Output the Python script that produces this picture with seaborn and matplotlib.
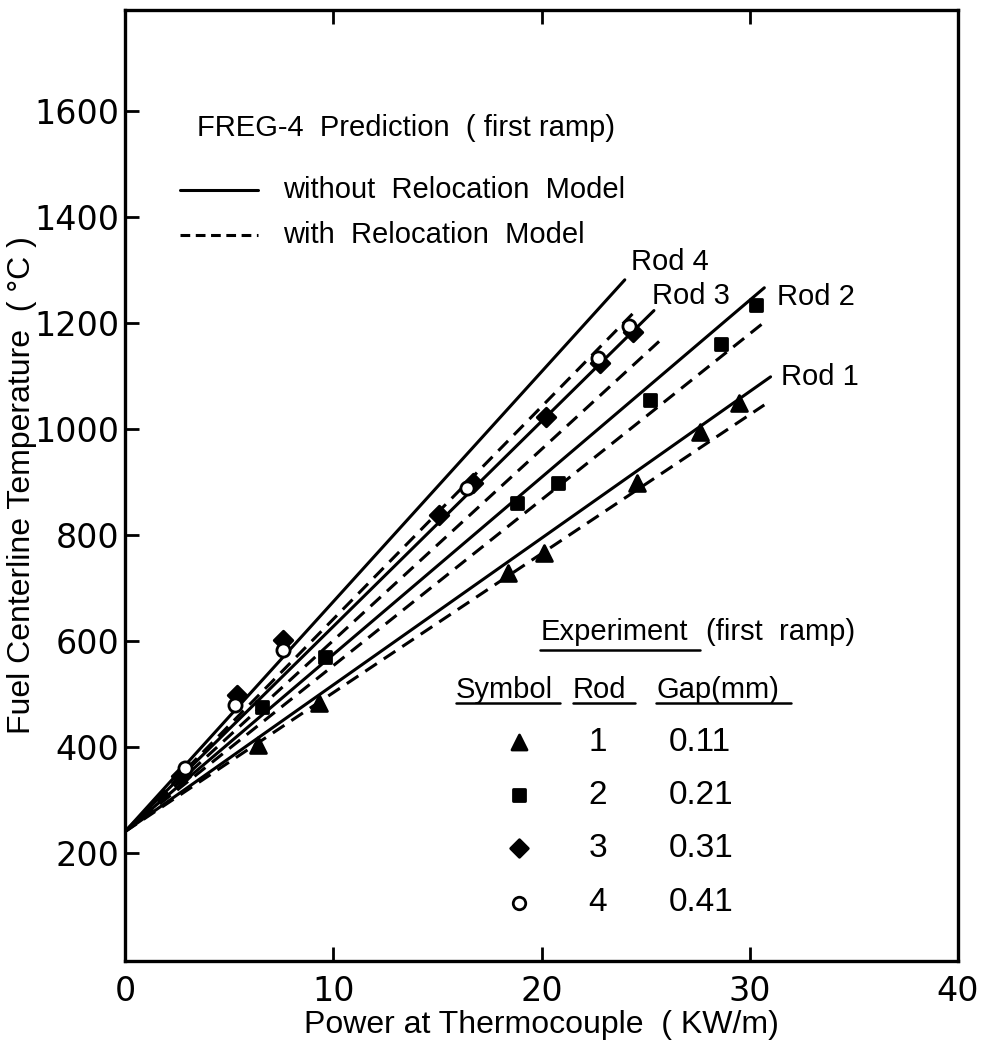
import numpy as np
import pandas as pd
import matplotlib
matplotlib.use("Agg")
import matplotlib.pyplot as plt
import seaborn as sns

# ---------------- data ----------------
rods = [1, 2, 3, 4]
gaps = ["0.11", "0.21", "0.31", "0.41"]
t_start = 240.0  # common starting temperature at zero power

# FREG-4 prediction line end points (without / with relocation model)
solid_end_x = [31.0, 30.7, 25.4, 24.0]
solid_end_y = [1098, 1266, 1223, 1281]
dashed_end_x = [30.7, 30.6, 25.9, 24.6]
dashed_end_y = [1045, 1198, 1174, 1226]

# experimental points
rod1_x = [6.4, 9.3, 18.4, 20.1, 24.6, 27.6, 29.5]
rod1_y = [404, 483, 728, 766, 898, 994, 1049]
rod2_x = [6.6, 9.6, 18.8, 20.8, 25.2, 28.6, 30.3]
rod2_y = [476, 570, 860, 898, 1055, 1159, 1234]
rod3_x = [2.7, 5.4, 7.6, 15.1, 16.7, 20.2, 22.8, 24.4]
rod3_y = [345, 498, 602, 838, 898, 1023, 1125, 1183]
rod4_x = [2.9, 5.3, 7.6, 16.4, 22.7, 24.2]
rod4_y = [360, 479, 583, 889, 1134, 1193]

x_ticks = [0, 10, 20, 30, 40]
y_ticks = [200, 400, 600, 800, 1000, 1200, 1400, 1600]

# ---------------- style ----------------
sns.set_theme(style="white")
plt.rcParams["font.family"] = ["DejaVu Sans"]
plt.rcParams["lines.scale_dashes"] = False
plt.rcParams["text.color"] = "black"
plt.rcParams["axes.labelcolor"] = "black"
plt.rcParams["xtick.color"] = "black"
plt.rcParams["ytick.color"] = "black"
TXT = "Liberation Sans"
FS = 21

fig = plt.figure(figsize=(9.87, 10.49), dpi=100)
ax = fig.add_axes([125 / 987, 1 - 961 / 1049, (958 - 125) / 987, (961 - 10) / 1049])

DASH = (0, (10, 6))
LW = 2.2

for i, r in enumerate(rods):
    sdf = pd.DataFrame({"x": [0, solid_end_x[i]], "y": [t_start, solid_end_y[i]]})
    sns.lineplot(data=sdf, x="x", y="y", color="black", lw=LW, ax=ax)
    ddf = pd.DataFrame({"x": [0, dashed_end_x[i]], "y": [t_start, dashed_end_y[i]]})
    sns.lineplot(data=ddf, x="x", y="y", color="black", lw=LW, linestyle=DASH, ax=ax)

pts = pd.concat([
    pd.DataFrame({"x": rod1_x, "y": rod1_y, "rod": "1"}),
    pd.DataFrame({"x": rod2_x, "y": rod2_y, "rod": "2"}),
    pd.DataFrame({"x": rod3_x, "y": rod3_y, "rod": "3"}),
    pd.DataFrame({"x": rod4_x, "y": rod4_y, "rod": "4"}),
])
marker_map = {"1": "^", "2": "s", "3": "D", "4": "o"}
size_map = {"1": 130, "2": 80, "3": 90, "4": 90}
for r, g in pts.groupby("rod"):
    fc = "white" if r == "4" else "black"
    sns.scatterplot(data=g, x="x", y="y", marker=marker_map[r], s=size_map[r],
                    facecolor=fc, edgecolor="black", linewidth=2, ax=ax, zorder=5)

ax.set_xlim(0, 40)
ax.set_ylim(-4, 1790)
ax.set_xticks(x_ticks)
ax.set_yticks(y_ticks)
ax.set_xticklabels([str(v) for v in x_ticks], fontsize=24)
ax.set_yticklabels([str(v) for v in y_ticks], fontsize=24)
ax.tick_params(axis="both", direction="in", length=10, width=2, color="black",
               labelcolor="black")
ax.tick_params(axis="x", pad=10, top=True, bottom=True)
ax.tick_params(axis="y", pad=4, left=True, right=False)
for s in ax.spines.values():
    s.set_color("black")
    s.set_linewidth(2.4)

ax.set_xlabel("Power at Thermocouple  ( KW/m)", fontsize=23, family=TXT, color="black")
ax.set_ylabel("Fuel Centerline Temperature  ( °C )", fontsize=23, family=TXT, color="black")
ax.xaxis.set_label_coords(0.5, -0.052)
ax.yaxis.set_label_coords(-0.106, 0.5)

# ---------------- prediction legend ----------------
ax.text(3.46, 1568, "FREG-4  Prediction  ( first ramp)", fontsize=FS, family=TXT,
        va="center", ha="left")
ax.plot([2.64, 6.39], [1451, 1451], color="black", lw=LW)
ax.plot([2.64, 6.39], [1366, 1366], color="black", lw=LW, linestyle=(0, (7, 4)))
ax.text(7.6, 1451, "without  Relocation  Model", fontsize=FS, family=TXT, va="center", ha="left")
ax.text(7.6, 1366, "with  Relocation  Model", fontsize=FS, family=TXT, va="center", ha="left")

# rod labels
ax.text(24.3, 1315, "Rod 4", fontsize=FS, family=TXT, va="center", ha="left")
ax.text(25.3, 1251, "Rod 3", fontsize=FS, family=TXT, va="center", ha="left")
ax.text(31.3, 1249, "Rod 2", fontsize=FS, family=TXT, va="center", ha="left")
ax.text(31.5, 1098, "Rod 1", fontsize=FS, family=TXT, va="center", ha="left")

# ---------------- experiment table ----------------
ax.text(19.95, 617, "Experiment", fontsize=FS, family=TXT, va="center", ha="left")
ax.text(27.9, 617, "(first  ramp)", fontsize=FS, family=TXT, va="center", ha="left")
ax.plot([19.95, 27.6], [583, 583], color="black", lw=1.8)
ax.text(15.9, 508, "Symbol", fontsize=FS, family=TXT, va="center", ha="left")
ax.text(21.5, 508, "Rod", fontsize=FS, family=TXT, va="center", ha="left")
ax.text(25.5, 508, "Gap(mm)", fontsize=FS, family=TXT, va="center", ha="left")
ax.plot([15.9, 20.9], [482, 482], color="black", lw=1.8)
ax.plot([21.5, 24.5], [482, 482], color="black", lw=1.8)
ax.plot([25.5, 32.0], [482, 482], color="black", lw=1.8)

row_y = [409, 309, 209, 106]
for i, r in enumerate(rods):
    key = str(r)
    fc = "white" if key == "4" else "black"
    ax.scatter([18.9], [row_y[i]], marker=marker_map[key], s=size_map[key] * 0.9,
               facecolor=fc, edgecolor="black", linewidth=2, zorder=5)
    ax.text(22.7, row_y[i], str(r), fontsize=24, family=TXT, va="center", ha="center")
    ax.text(26.1, row_y[i], gaps[i], fontsize=24, family=TXT, va="center", ha="left")

fig.savefig("out.png", dpi=100)
